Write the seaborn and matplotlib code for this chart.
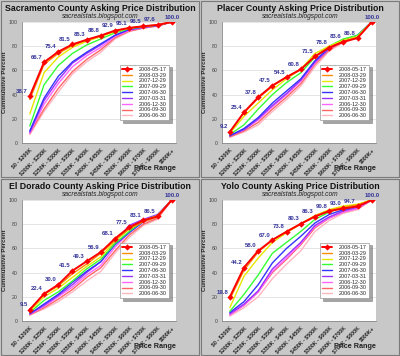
import numpy as np
import pandas as pd
import matplotlib
matplotlib.use("Agg")
import matplotlib.pyplot as plt
from matplotlib.patches import Rectangle
import seaborn as sns

# --- Data ---
price_ranges = ['$0 - $200K', '$200K - $250K', '$250K - $300K', '$300K - $350K',
                '$350K - $400K', '$400K - $450K', '$450K - $500K', '$500K - $600K',
                '$600K - $700K', '$700K - $800K', '$800K+']
dates = ['2008-05-17', '2008-03-29', '2007-12-29', '2007-09-29', '2007-06-30',
         '2007-03-31', '2006-12-30', '2006-09-30', '2006-06-30']
colors = ['#ff0000', '#ff8c00', '#e6e600', '#33ff33', '#3333ff',
          '#9933ff', '#ff66ff', '#ff6666', '#ffb6c1']

sacramento = [
    [38.7, 66.7, 75.4, 81.5, 85.3, 88.8, 92.9, 95.1, 96.5, 97.6, 100.0],
    [36, 65, 74, 80.5, 85, 88.5, 92.5, 95, 96.5, 97.5, 100],
    [24, 58, 71, 79, 84, 88, 92, 95, 96.5, 97.5, 100],
    [14, 48, 64, 74, 81, 86, 91, 94.5, 96, 97.5, 100],
    [10, 37, 55, 67, 75, 82, 89, 94, 96, 97.3, 100],
    [9, 35, 52, 66, 74, 81, 89, 93.5, 95.5, 97, 100],
    [8, 32, 49, 63, 72, 79, 88, 93, 95.5, 97, 100],
    [8, 28, 45, 59, 69, 77, 87, 92.5, 95, 96.8, 100],
    [7, 26, 42, 57, 67, 75, 86, 92, 95, 96.5, 100],
]
placer = [
    [9.2, 25.4, 37.8, 47.5, 54.5, 60.8, 71.5, 78.8, 83.6, 86.8, 100.0],
    [9, 25, 37, 47, 54.5, 61, 72, 79, 84, 87, 100],
    [8, 22, 33, 44, 53, 61, 74, 80, 85, 88, 100],
    [7, 15, 28, 40, 50, 58, 71, 80, 86, 89, 100],
    [6, 12, 21, 33, 43, 53, 68, 79, 85, 89, 100],
    [6, 11, 20, 31, 41, 52, 67, 78, 85, 89, 100],
    [6, 11, 19, 30, 40, 51, 66, 78, 84, 88, 100],
    [5, 10, 17, 28, 38, 49, 65, 77, 84, 88, 100],
    [5, 9, 15, 26, 36, 47, 63, 76, 83, 87, 100],
]
el_dorado = [
    [9.5, 22.4, 30.0, 41.5, 49.3, 56.9, 68.1, 77.5, 83.1, 86.5, 100.0],
    [9, 22, 29, 39, 47, 56, 67, 76, 82, 86, 100],
    [8, 20, 27, 36, 45, 53, 66, 76, 83, 87, 100],
    [7, 17, 24, 33, 43, 51, 64, 74, 83, 87, 100],
    [6, 14, 22, 32, 41, 49, 63, 73, 82, 87, 100],
    [6, 13, 21, 30, 40, 49, 65, 79, 84, 88, 100],
    [5.5, 12, 20, 28, 38, 46, 61, 73, 82, 86, 100],
    [5, 11, 18, 26, 36, 44, 58, 71, 80, 85, 100],
    [5, 10, 16, 24, 33, 41, 56, 69, 79, 84, 100],
]
yolo = [
    [19.8, 44.2, 58.0, 67.0, 73.8, 80.3, 86.3, 90.8, 93.0, 94.7, 100.0],
    [18, 42, 57, 67, 74, 80.5, 87, 91.5, 94, 96, 100],
    [11, 37, 52, 65, 73, 80, 87, 92, 95, 96.5, 100],
    [8, 22, 38, 56, 65, 74, 84, 90, 94, 96, 100],
    [7, 16, 30, 48, 60, 70, 81, 88, 92, 95, 100],
    [6, 14, 25, 43, 54, 65, 79, 86, 91, 94, 100],
    [5, 13, 24, 41, 52, 64, 78, 85, 90, 93, 100],
    [5, 13, 24, 40, 51, 63, 77, 85, 90, 93, 100],
    [4, 11, 20, 35, 47, 58, 74, 83, 89, 92, 100],
]

panels = [
    ('Sacramento County Asking Price Distribution', sacramento, 0, 0),
    ('Placer County Asking Price Distribution', placer, 200, 0),
    ('El Dorado County Asking Price Distribution', el_dorado, 0, 178),
    ('Yolo County Asking Price Distribution', yolo, 200, 178),
]

# --- Figure ---
sns.set_style('white')
plt.rcParams['font.family'] = ['Liberation Sans', 'DejaVu Sans']

W, H = 400, 356
fig = plt.figure(figsize=(W / 100, H / 100), dpi=100)
fig.patch.set_facecolor('#c8c8c8')

xpos = np.arange(len(price_ranges))
tick_text = [p.replace('$', r'\$') for p in price_ranges]  # avoid mathtext

for title, series, px, py in panels:
    # panel frame (behind the axes)
    fig.add_artist(Rectangle((px / W + 0.002, 1 - (py + 178) / H + 0.002),
                             198 / W, 176 / H, transform=fig.transFigure,
                             facecolor='#c8c8c8', edgecolor='#7a7a7a', lw=0.8,
                             zorder=-5))
    fig.text((px + 100) / W, 1 - (py + 8.5) / H, title, ha='center', va='center',
             fontsize=6.3, fontweight='bold', color='#111111')
    fig.text((px + 100) / W, 1 - (py + 16.5) / H, 'sacrealstats.blogspot.com',
             ha='center', va='center', fontsize=4.8, style='italic', color='#222222')

    ax = fig.add_axes([(px + 22) / W, 1 - (py + 143) / H, 154 / W, 121 / H])
    ax.set_facecolor('white')

    df = pd.DataFrame({
        'x': np.tile(xpos, len(dates)),
        'pct': np.concatenate([np.asarray(s, dtype=float) for s in series]),
        'date': np.repeat(dates, len(xpos)),
    })
    for i in range(len(dates) - 1, -1, -1):
        sub = df[df['date'] == dates[i]]
        sns.lineplot(data=sub, x='x', y='pct', ax=ax, color=colors[i],
                     lw=1.4 if i == 0 else 1.0,
                     marker='D' if i == 0 else None, markersize=3.2,
                     markeredgewidth=0, label=dates[i], zorder=10 - i)

    # labels on newest series
    for xv, yv in zip(xpos, series[0]):
        ax.text(xv - 0.12 if xv < 10 else xv, yv + 2.0, f'{yv:.1f}',
                ha='right' if xv < 10 else 'center',
                va='bottom', fontsize=4.3, fontweight='bold', color='#333399',
                zorder=20, clip_on=False)

    ax.set_xlim(-0.55, 10.3)
    ax.set_ylim(0, 100)
    ax.set_yticks(range(0, 101, 20))
    ax.yaxis.grid(True, color='#e0e0e0', lw=0.6)
    ax.set_axisbelow(True)
    ax.tick_params(axis='y', labelsize=3.8, length=2, width=0.5, pad=1, colors='#444444')
    ax.set_xticks(xpos)
    ax.set_xticklabels(tick_text, rotation=45, ha='right', rotation_mode='anchor',
                       fontsize=3.8, fontweight='bold')
    ax.tick_params(axis='x', length=2, width=0.5, pad=1, colors='#444444')
    for lab in ax.get_xticklabels():
        lab.set_color('#222222')
    for s in ['top', 'right']:
        ax.spines[s].set_visible(False)
    for s in ['left', 'bottom']:
        ax.spines[s].set_color('#888888')
        ax.spines[s].set_linewidth(0.6)
    ax.set_xlabel('')
    ax.set_ylabel('Cummulative Percent', fontsize=4.3, fontweight='bold', labelpad=1.5)

    fig.text((px + 155) / W, 1 - (py + 168) / H, 'Price Range', ha='center',
             va='center', fontsize=5.2, fontweight='bold', color='#222222')

    handles, labels = ax.get_legend_handles_labels()
    order = [labels.index(d) for d in dates]
    leg = ax.legend([handles[k] for k in order], [labels[k] for k in order],
                    loc='upper left', bbox_to_anchor=(0.62, 0.67), fontsize=3.9,
                    frameon=True, fancybox=False, shadow=True, handlelength=1.8,
                    labelspacing=0.15, borderpad=0.4, handletextpad=1.2)
    leg.get_frame().set_edgecolor('#999999')
    leg.get_frame().set_linewidth(0.5)
    leg.set_zorder(30)

fig.savefig('out.png', dpi=100, facecolor=fig.get_facecolor())
